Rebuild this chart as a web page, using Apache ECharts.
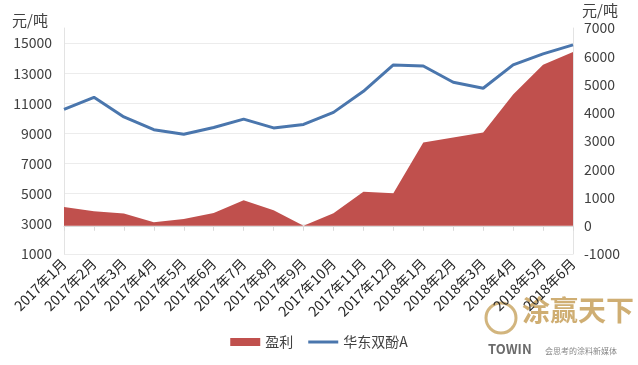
<!DOCTYPE html>
<html>
<head>
<meta charset="utf-8">
<script src="https://cdn.jsdelivr.net/npm/echarts@6/dist/echarts.min.js"></script>
<style>
html,body{margin:0;padding:0;background:#fff;}
#chart{width:638px;height:365px;}
</style>
</head>
<body>
<div id="chart"></div>
<script>
var categories = ['2017年1月','2017年2月','2017年3月','2017年4月','2017年5月','2017年6月','2017年7月','2017年8月','2017年9月','2017年10月','2017年11月','2017年12月','2018年1月','2018年2月','2018年3月','2018年4月','2018年5月','2018年6月'];
var profit = [660, 510, 430, 120, 240, 450, 900, 550, 0, 440, 1200, 1150, 2950, 3120, 3300, 4650, 5700, 6150];
var bpaPrice = [10600, 11400, 10100, 9250, 8950, 9400, 9950, 9370, 9600, 10400, 11800, 13550, 13480, 12400, 12000, 13550, 14280, 14880];
var leftTicks = {min: 1000, max: 16000, interval: 2000};
var rightTicks = {min: -1000, max: 7000, interval: 1000};

var FONT = '"Noto Sans CJK SC", "Noto Sans", sans-serif';
function plain(v) { return String(v); }
var chart = echarts.init(document.getElementById('chart'), null, {renderer: 'canvas'});
chart.setOption({
  backgroundColor: '#ffffff',
  animation: false,
  textStyle: {fontFamily: FONT},
  grid: {left: 64, right: 65, top: 28, bottom: 111, containLabel: false},
  legend: {
    left: 'center',
    top: 330,
    itemWidth: 30,
    itemHeight: 8,
    itemGap: 15,
    textStyle: {fontSize: 14, color: '#404040', fontFamily: FONT},
    data: [
      {name: '盈利', icon: 'rect'},
      {name: '华东双酚A', icon: 'path://M0,0 L30,0 L30,3 L0,3 Z'}
    ]
  },
  xAxis: {
    type: 'category',
    data: categories,
    boundaryGap: false,
    axisLine: {show: true, lineStyle: {color: '#d9d9d9', width: 1}},
    axisTick: {show: true, length: 5, lineStyle: {color: '#d9d9d9'}},
    axisLabel: {rotate: 45, interval: 0, fontSize: 14, color: '#262626', margin: 7, fontFamily: FONT},
    splitLine: {show: false}
  },
  yAxis: [
    {
      type: 'value',
      position: 'left',
      min: leftTicks.min, max: leftTicks.max, interval: leftTicks.interval,
      axisLine: {show: true, lineStyle: {color: '#e3e3e3'}},
      axisTick: {show: false},
      axisLabel: {fontSize: 14, color: '#404040', margin: 12, showMaxLabel: false, fontFamily: FONT, formatter: plain},
      splitLine: {show: true, showMaxLine: false, lineStyle: {color: '#ececec', width: 1}}
    },
    {
      type: 'value',
      position: 'right',
      min: rightTicks.min, max: rightTicks.max, interval: rightTicks.interval,
      axisLine: {show: true, lineStyle: {color: '#e3e3e3'}},
      axisTick: {show: false},
      axisLabel: {fontSize: 14, color: '#404040', margin: 11, fontFamily: FONT, formatter: plain},
      splitLine: {show: false}
    }
  ],
  series: [
    {
      name: '盈利',
      type: 'line',
      yAxisIndex: 1,
      data: profit,
      symbol: 'none',
      lineStyle: {width: 0, color: '#c0504d'},
      itemStyle: {color: '#c0504d'},
      areaStyle: {color: '#c0504d', opacity: 1},
      z: 1
    },
    {
      name: '华东双酚A',
      type: 'line',
      yAxisIndex: 0,
      data: bpaPrice,
      symbol: 'none',
      lineStyle: {width: 3, color: '#4a76ad'},
      itemStyle: {color: '#4a76ad'},
      z: 3
    }
  ],
  graphic: [
    {type: 'text', left: 12, top: 13, style: {text: '元/吨', fontSize: 15, fill: '#404040', fontFamily: FONT}},
    {type: 'text', left: 582, top: 3, style: {text: '元/吨', fontSize: 15, fill: '#404040', fontFamily: FONT}},
    {type: 'circle', shape: {cx: 501, cy: 318, r: 15}, style: {fill: 'none', stroke: '#d2b57e', lineWidth: 3}, silent: true},
    {type: 'text', left: 522, top: 296, style: {text: '涂赢天下', fontSize: 28, fontWeight: 'bold', fill: '#cfae73', fontFamily: FONT}},
    {type: 'text', left: 488, top: 343, style: {text: 'TOWIN', fontSize: 13, fontWeight: 'bold', fill: '#6b6b6b', fontFamily: FONT}},
    {type: 'text', left: 545, top: 347, style: {text: '会思考的涂料新媒体', fontSize: 8, fill: '#888888', fontFamily: FONT}}
  ]
});
</script>
</body>
</html>
